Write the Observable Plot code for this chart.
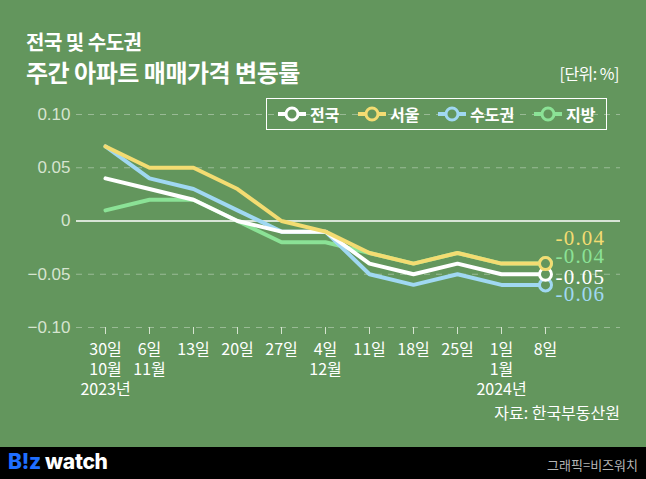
<!DOCTYPE html>
<html><head><meta charset="utf-8">
<script src="https://cdn.jsdelivr.net/npm/d3@7"></script>
<script src="https://cdn.jsdelivr.net/npm/@observablehq/plot@0.6"></script>
<style>
html,body{margin:0;padding:0;}
body{width:646px;height:479px;background:#63965d;position:relative;overflow:hidden;font-family:"Noto Sans CJK KR",sans-serif;color:#fff;}
.abs{position:absolute;white-space:nowrap;}
#sub{left:26px;top:27px;font-size:20px;font-weight:700;letter-spacing:-0.5px;}
#title{left:26px;top:54px;font-size:24px;font-weight:700;letter-spacing:-0.5px;}
#unit{right:27px;top:61px;font-size:16px;letter-spacing:-0.5px;}
#legend{left:266px;top:98px;width:341px;height:32px;border:1px solid #fff;box-sizing:border-box;}
#source{right:26px;top:400px;font-size:16px;}
#footer{left:0;top:447px;width:646px;height:32px;background:#000;}
#logo{left:8px;top:2px;font-family:Inter,sans-serif;font-weight:800;font-size:21px;letter-spacing:-0.3px;}
#credit{right:8px;top:8px;font-size:13px;color:#b5b5b5;}
#chart{position:absolute;left:0;top:0;}
</style></head>
<body>
<div id="chart"></div>
<div class="abs" id="sub">전국 및 수도권</div>
<div class="abs" id="title">주간 아파트 매매가격 변동률</div>
<div class="abs" id="unit">[단위: %]</div>
<div class="abs" id="legend"></div>
<div class="abs" id="source">자료: 한국부동산원</div>
<div class="abs" id="footer">
  <div class="abs" id="logo"><span style="color:#1f6fff">B!z</span> watch</div>
  <div class="abs" id="credit">그래픽=비즈워치</div>
</div>
<script>
// ---- data ----
const dates = ["30일\n10월\n2023년","6일\n11월","13일","20일","27일","4일\n12월","11일","18일","25일","1일\n1월\n2024년","8일"];
const seriesNames = ["전국","서울","수도권","지방"];
const nationwide = [0.04,0.03,0.02,0,-0.01,-0.01,-0.04,-0.05,-0.04,-0.05,-0.05];
const seoul      = [0.07,0.05,0.05,0.03,0,-0.01,-0.03,-0.04,-0.03,-0.04,-0.04];
const capital    = [0.07,0.04,0.03,0.01,-0.01,-0.01,-0.05,-0.06,-0.05,-0.06,-0.06];
const regions    = [0.01,0.02,0.02,0,-0.02,-0.02,-0.03,-0.04,-0.03,-0.04,-0.04];
const yTicks = [-0.1,-0.05,0,0.05,0.1];

const colors = {"전국":"#ffffff","서울":"#f3dc72","수도권":"#a0d8f2","지방":"#8be296"};
const valuesBy = {"전국":nationwide,"서울":seoul,"수도권":capital,"지방":regions};
const drawOrder = ["지방","수도권","전국","서울"];
const rows = drawOrder.flatMap(s => valuesBy[s].map((v,i)=>({series:s,date:dates[i],value:v})));
const lastRows = drawOrder.map(s => ({series:s,date:dates[dates.length-1],value:valuesBy[s][dates.length-1]}));
const fmt = v => v===0 ? "0" : d3.format(".2f")(v);
const endFmt = v => d3.format(".2f")(v).replace("−","-");
const labelDy = {"서울":-25,"지방":-7,"전국":3,"수도권":9};
const BG = "#63965d";

const plot = Plot.plot({
  width:646, height:447,
  marginLeft:76, marginRight:26, marginTop:100, marginBottom:120,
  style:{background:"transparent",fontFamily:"'Liberation Sans','Noto Sans CJK KR',sans-serif"},
  x:{type:"point",domain:dates,range:[100,549],padding:0},
  y:{domain:[-0.1,0.1],range:[327,114]},
  marks:[
    Plot.ruleY(yTicks.filter(d=>d!==0),{stroke:"#ffffff",strokeOpacity:0.35,strokeDasharray:"6,6",strokeWidth:1}),
    Plot.ruleY([0],{stroke:"#ffffff",strokeWidth:1.5}),
    Plot.axisY({ticks:yTicks,tickFormat:fmt,tickSize:0,tickPadding:6,fontSize:17,color:"#d6e4d0",label:null}),
    Plot.axisX({tickSize:7,tickPadding:6,fontSize:16,lineHeight:1.25,color:"#ffffff",stroke:"#d6e4d0",label:null,
      fontFamily:"'Noto Sans CJK KR',sans-serif",tickFormat:d=>d}),
    ...drawOrder.map(s => Plot.line(rows.filter(r=>r.series===s),{x:"date",y:"value",stroke:colors[s],strokeWidth:4,strokeLinejoin:"miter"})),
    ...drawOrder.map(s => Plot.dot(lastRows.filter(r=>r.series===s),{x:"date",y:"value",r:6,stroke:colors[s],strokeWidth:3,fill:BG})),
    ...drawOrder.map(s => Plot.text(lastRows.filter(r=>r.series===s),{x:"date",y:"value",text:d=>endFmt(d.value),fill:colors[s],
      textAnchor:"start",dx:10,dy:labelDy[s],fontSize:21,fontFamily:"'Liberation Serif',serif"}))
  ]
});
d3.select(plot).selectAll("g[aria-label='text'] text").attr("letter-spacing","1.2px").style("letter-spacing","1.2px");
document.getElementById("chart").appendChild(plot);

// legend
const leg = document.getElementById("legend");
const xs = [10,90,170,266];
seriesNames.forEach((s,i)=>{
  const d = document.createElement("div");
  d.className="abs";
  d.style.left = xs[i]+"px"; d.style.top="3px";
  d.style.display="flex"; d.style.alignItems="center";
  d.innerHTML = `<svg width="30" height="24"><line x1="1" x2="29" y1="12" y2="12" stroke="${colors[s]}" stroke-width="4"/><circle cx="15" cy="12" r="6" fill="${BG}" stroke="${colors[s]}" stroke-width="3"/></svg><span style="font-size:16px;font-weight:700;margin-left:3px;line-height:24px">${s}</span>`;
  leg.appendChild(d);
});
</script>
</body></html>
